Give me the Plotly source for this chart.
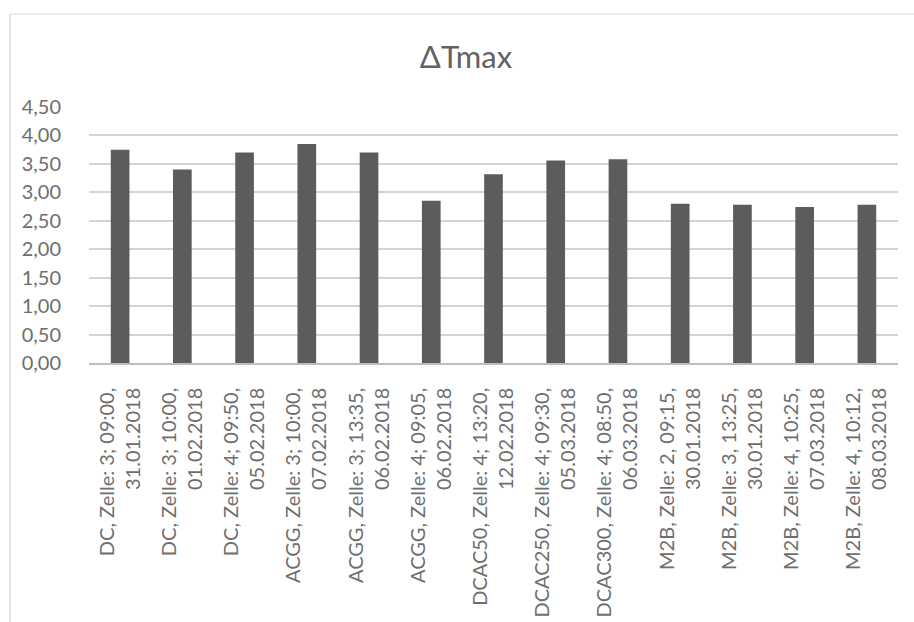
import plotly.graph_objects as go

# Measurement runs (process, cell, time, date)
categories = [
    "DC, Zelle: 3; 09:00,<br>31.01.2018",
    "DC, Zelle: 3; 10:00,<br>01.02.2018",
    "DC, Zelle: 4; 09:50,<br>05.02.2018",
    "ACGG, Zelle: 3; 10:00,<br>07.02.2018",
    "ACGG, Zelle: 3; 13:35,<br>06.02.2018",
    "ACGG, Zelle: 4; 09:05,<br>06.02.2018",
    "DCAC50, Zelle: 4; 13:20,<br>12.02.2018",
    "DCAC250, Zelle: 4; 09:30,<br>05.03.2018",
    "DCAC300, Zelle: 4; 08:50,<br>06.03.2018",
    "M2B, Zelle: 2, 09:15,<br>30.01.2018",
    "M2B, Zelle: 3, 13:25,<br>30.01.2018",
    "M2B, Zelle: 4, 10:25,<br>07.03.2018",
    "M2B, Zelle: 4, 10:12,<br>08.03.2018",
]

# Maximum temperature difference per run
delta_t_max = [3.75, 3.40, 3.70, 3.85, 3.70, 2.85, 3.32, 3.56, 3.58, 2.80, 2.78, 2.74, 2.78]

y_ticks = [0.0, 0.5, 1.0, 1.5, 2.0, 2.5, 3.0, 3.5, 4.0, 4.5]

FONT = "Lato"
TEXT = "#6e6e6e"

fig = go.Figure(
    go.Bar(
        x=list(range(len(categories))),
        y=delta_t_max,
        marker=dict(color="#5c5c5c", line=dict(width=0)),
        width=0.3,
    )
)

fig.update_layout(
    width=914,
    height=622,
    paper_bgcolor="white",
    plot_bgcolor="white",
    separators=",.",
    margin=dict(l=89, r=16, t=107, b=259),
    showlegend=False,
    title=dict(
        text="ΔTmax",
        x=0.466,
        xref="paper",
        xanchor="center",
        y=1 - 57 / 622,
        yref="container",
        yanchor="middle",
        font=dict(family=FONT, size=31, color="#626262"),
    ),
    font=dict(family=FONT, color=TEXT),
    shapes=[
        dict(type="line", xref="paper", yref="paper",
             x0=(10 - 89) / 809, x1=(10 - 89) / 809,
             y0=(363 - 14) / 256, y1=-259 / 256,
             line=dict(color="#d8d8d8", width=1.5)),
        dict(type="line", xref="paper", yref="paper",
             x0=(10 - 89) / 809, x1=(914 - 89) / 809,
             y0=(363 - 14) / 256, y1=(363 - 14) / 256,
             line=dict(color="#e6e6e6", width=1.5)),
    ],
)

fig.update_xaxes(
    tickmode="array",
    tickvals=list(range(len(categories))),
    ticktext=categories,
    tickangle=-90,
    tickfont=dict(family=FONT, size=20, color=TEXT),
    range=[-0.5, len(categories) - 0.5],
    showgrid=False,
    showline=True,
    linecolor="#bdbdbd",
    linewidth=1.5,
    ticks="",
    ticklabelstandoff=15,
    zeroline=False,
    automargin=False,
)

fig.update_yaxes(
    range=[0, 4.5],
    tickmode="array",
    tickvals=y_ticks,
    tickformat=".2f",
    tickfont=dict(family=FONT, size=20, color=TEXT),
    showgrid=True,
    gridcolor="#d4d4d4",
    gridwidth=1.5,
    zeroline=False,
    showline=False,
    ticks="",
    ticklabelstandoff=27,
    automargin=False,
)

fig.write_html("out.html")
